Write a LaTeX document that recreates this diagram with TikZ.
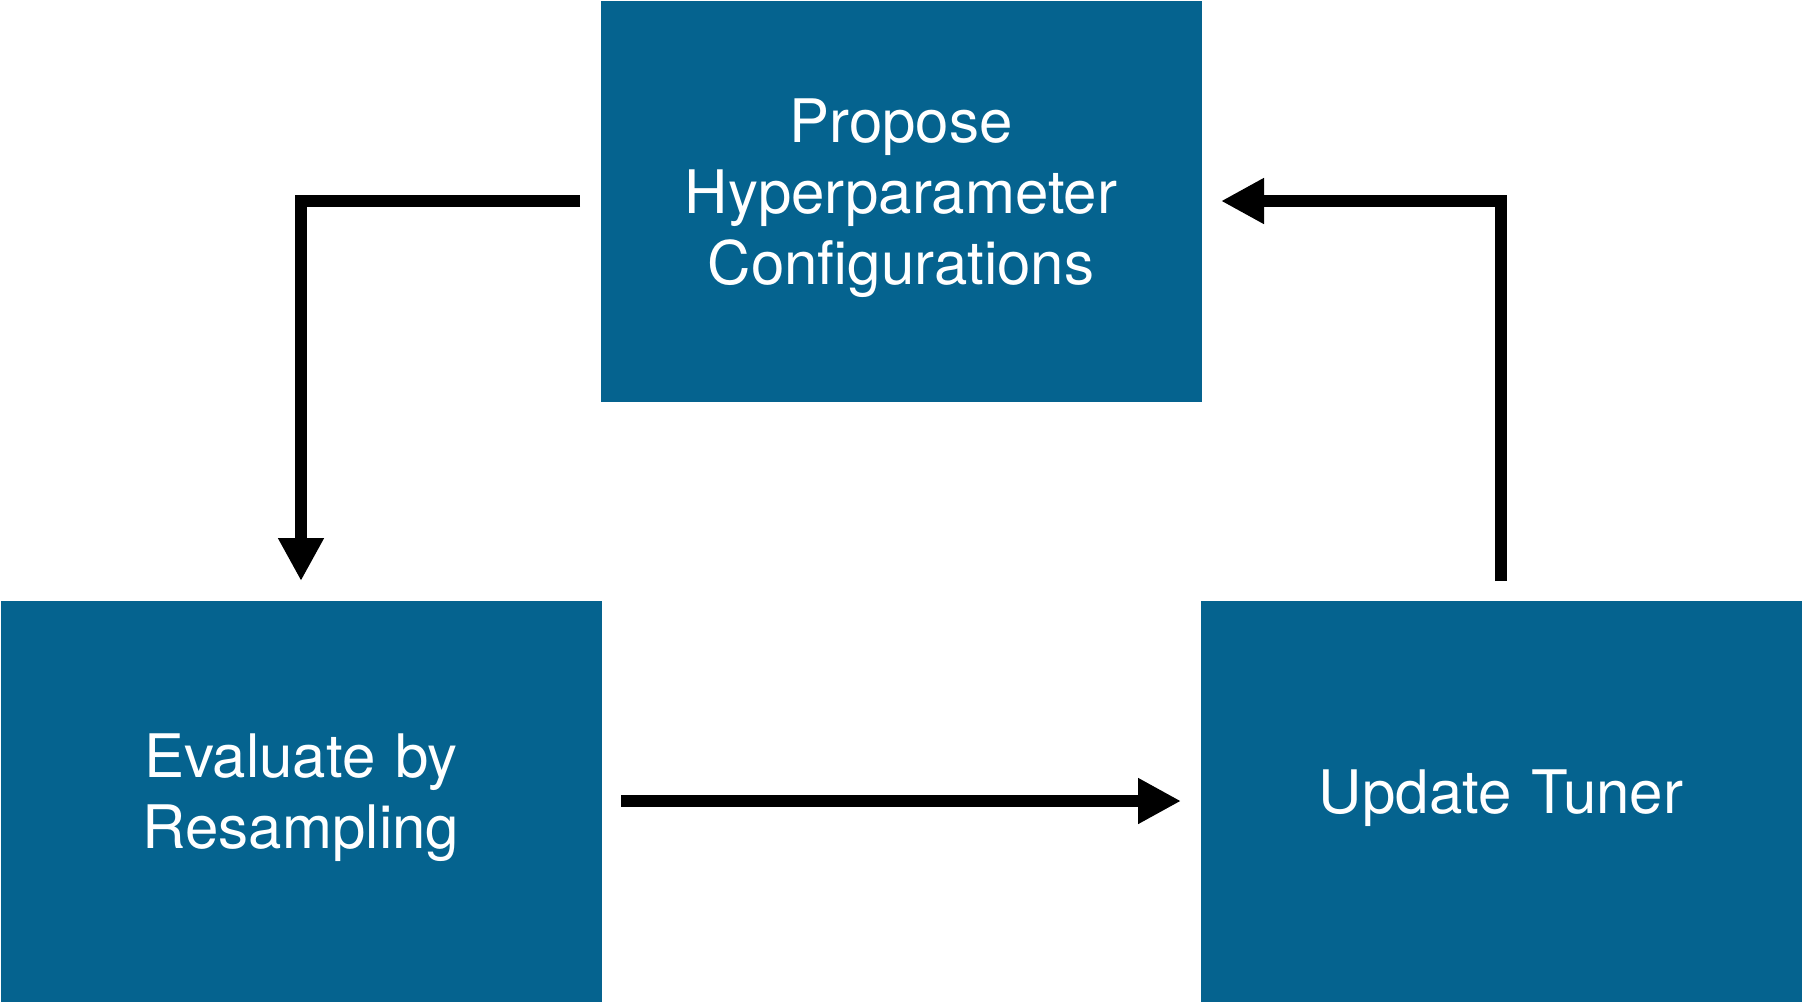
\documentclass[tikz,border=0pt]{standalone}
\usepackage{fontspec}
\setmainfont{TeX Gyre Heros}
\usetikzlibrary{arrows.meta}
\definecolor{boxblue}{RGB}{5,99,143}
\begin{document}
\begin{tikzpicture}[x=1pt,y=-1pt,
  stage/.style={rectangle, fill=boxblue, draw=boxblue, line width=1pt,
    minimum width=600pt, minimum height=400pt, inner sep=0pt, outer sep=0pt,
    text=white, align=center, text width=580pt,
    font=\fontsize{60}{71}\selectfont},
  flow/.style={line width=11.5pt, draw=black,
    -{Triangle[length=43pt,width=43pt]}}]
\useasboundingbox (0,0) rectangle (1802,1002);
\node[stage] (top) at (901,201) {Propose\\Hyperparameter\\Configurations\rule[-19pt]{0pt}{1pt}};
\node[stage] (left) at (301,801) {Evaluate by\\Resampling\rule[-19pt]{0pt}{1pt}};
\node[stage] (right) at (1501,801) {Update Tuner\rule[-19pt]{0pt}{1pt}};
\draw[flow] ([xshift=-21pt]top.west) -| ([yshift=20pt]left.north);
\draw[flow] ([xshift=20pt]left.east) -- ([xshift=-20pt]right.west);
\draw[flow] ([yshift=20pt]right.north) |- ([xshift=20pt]top.east);
\end{tikzpicture}
\end{document}
